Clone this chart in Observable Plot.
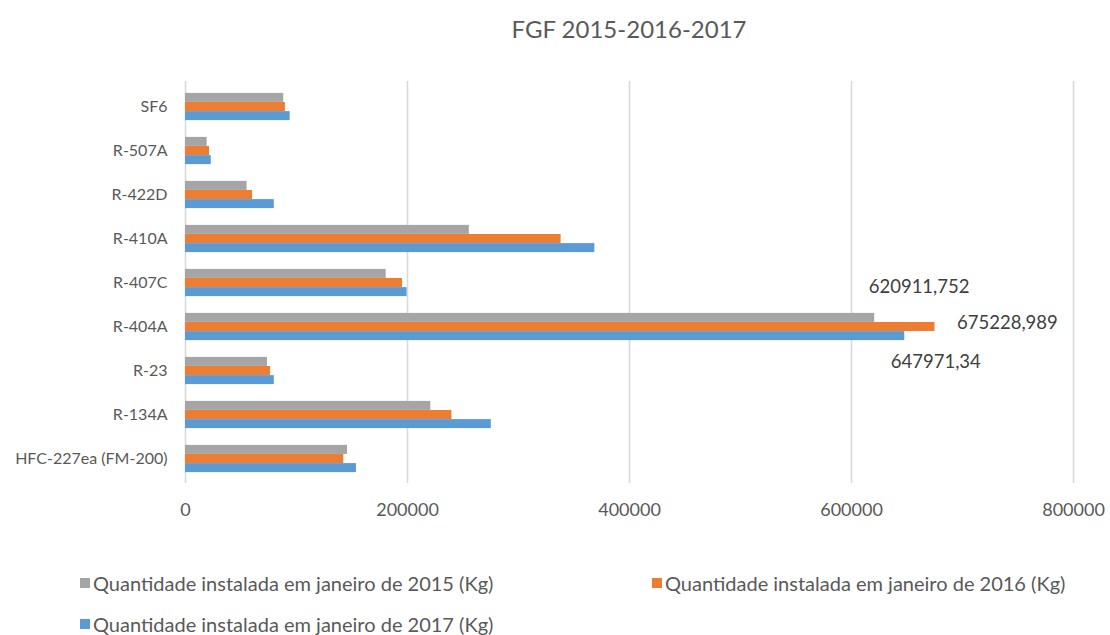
<!DOCTYPE html>
<html><head><meta charset="utf-8">
<script src="https://cdn.jsdelivr.net/npm/d3@7"></script>
<script src="https://cdn.jsdelivr.net/npm/@observablehq/plot@0.6"></script>
<style>
body{margin:0;background:#fff;font-family:Lato,sans-serif;color:#595959;width:1110px;height:635px;overflow:hidden}
#title{height:60px;box-sizing:border-box;padding:14px 37px 0 185px;text-align:center;font-size:24px;line-height:29px}
#chart svg{display:block}
#legend{position:relative;height:105px;font-size:20px;line-height:20px}
.item{position:absolute;display:flex;align-items:center;white-space:nowrap}
.sw{width:10px;height:10px;margin-right:3px}
</style></head><body>
<div id="title">FGF 2015-2016-2017</div>
<div id="chart"></div>
<div id="legend"></div>
<script>
const categories = ["SF6","R-507A","R-422D","R-410A","R-407C","R-404A","R-23","R-134A","HFC-227ea (FM-200)"];
const seriesNames = ["Quantidade instalada em janeiro de 2015 (Kg)","Quantidade instalada em janeiro de 2016 (Kg)","Quantidade instalada em janeiro de 2017 (Kg)"];
const v2015 = [88500, 19500, 55500, 255700, 180800, 620911.752, 73900, 221000, 146000];
const v2016 = [90000, 21600, 60400, 338400, 195500, 675228.989, 76600, 240000, 142600];
const v2017 = [94300, 23200, 80000, 368800, 199600, 647971.34, 80000, 275500, 154000];
const labeled = ["R-404A"];
const xTicks = [0, 200000, 400000, 600000, 800000];
const colors = ["#A5A5A5", "#ED7D31", "#5B9BD5"];

const seriesValues = [v2015, v2016, v2017];
const rows = [];
seriesValues.forEach((vals, s) => categories.forEach((c, i) => rows.push({category: c, series: s, value: vals[i]})));

const barStep = 9.1;
const labelOffsets = [{dx: -6, dy: -40}, {dx: 22, dy: -4}, {dx: -14, dy: 35}];
const marks = [Plot.gridX(xTicks, {stroke: "#D9D9D9", strokeOpacity: 1, strokeWidth: 1.6})];
seriesValues.forEach((_, s) => {
  const d = rows.filter(r => r.series === s);
  marks.push(Plot.barX(d, {x: "value", y: "category", fill: colors[s], dy: (s - 1) * barStep}));
  marks.push(Plot.text(d.filter(r => labeled.includes(r.category)), {
    x: "value", y: "category", text: r => String(r.value).replace(".", ","),
    textAnchor: "start", dx: labelOffsets[s].dx, dy: labelOffsets[s].dy, fontSize: 18.5, fill: "#404040"
  }));
});
marks.push(Plot.axisY({tickSize: 0, tickPadding: 18, fontSize: 16, label: null}));
marks.push(Plot.axisX({ticks: xTicks, tickSize: 0, tickPadding: 20, fontSize: 18, label: null, tickFormat: d => String(d)}));

const p = 0.805;
const chart = Plot.plot({
  width: 1110, height: 470,
  marginLeft: 185, marginRight: 37, marginTop: 21, marginBottom: 47,
  style: {fontFamily: "Lato, sans-serif", color: "#595959", background: "#fff", overflow: "visible"},
  x: {domain: [0, 800000]},
  y: {domain: categories, paddingInner: p, paddingOuter: p / 2, align: 0.5},
  marks
});
document.getElementById("chart").appendChild(chart);

const legend = document.getElementById("legend");
const pos = [{left: 80, top: 43}, {left: 652, top: 43}, {left: 80, top: 84}];
seriesNames.forEach((n, i) => {
  const it = document.createElement("div");
  it.className = "item";
  it.style.left = pos[i].left + "px";
  it.style.top = pos[i].top + "px";
  it.innerHTML = `<span class="sw" style="background:${colors[i]}"></span><span>${n}</span>`;
  legend.appendChild(it);
});
</script>
</body></html>
